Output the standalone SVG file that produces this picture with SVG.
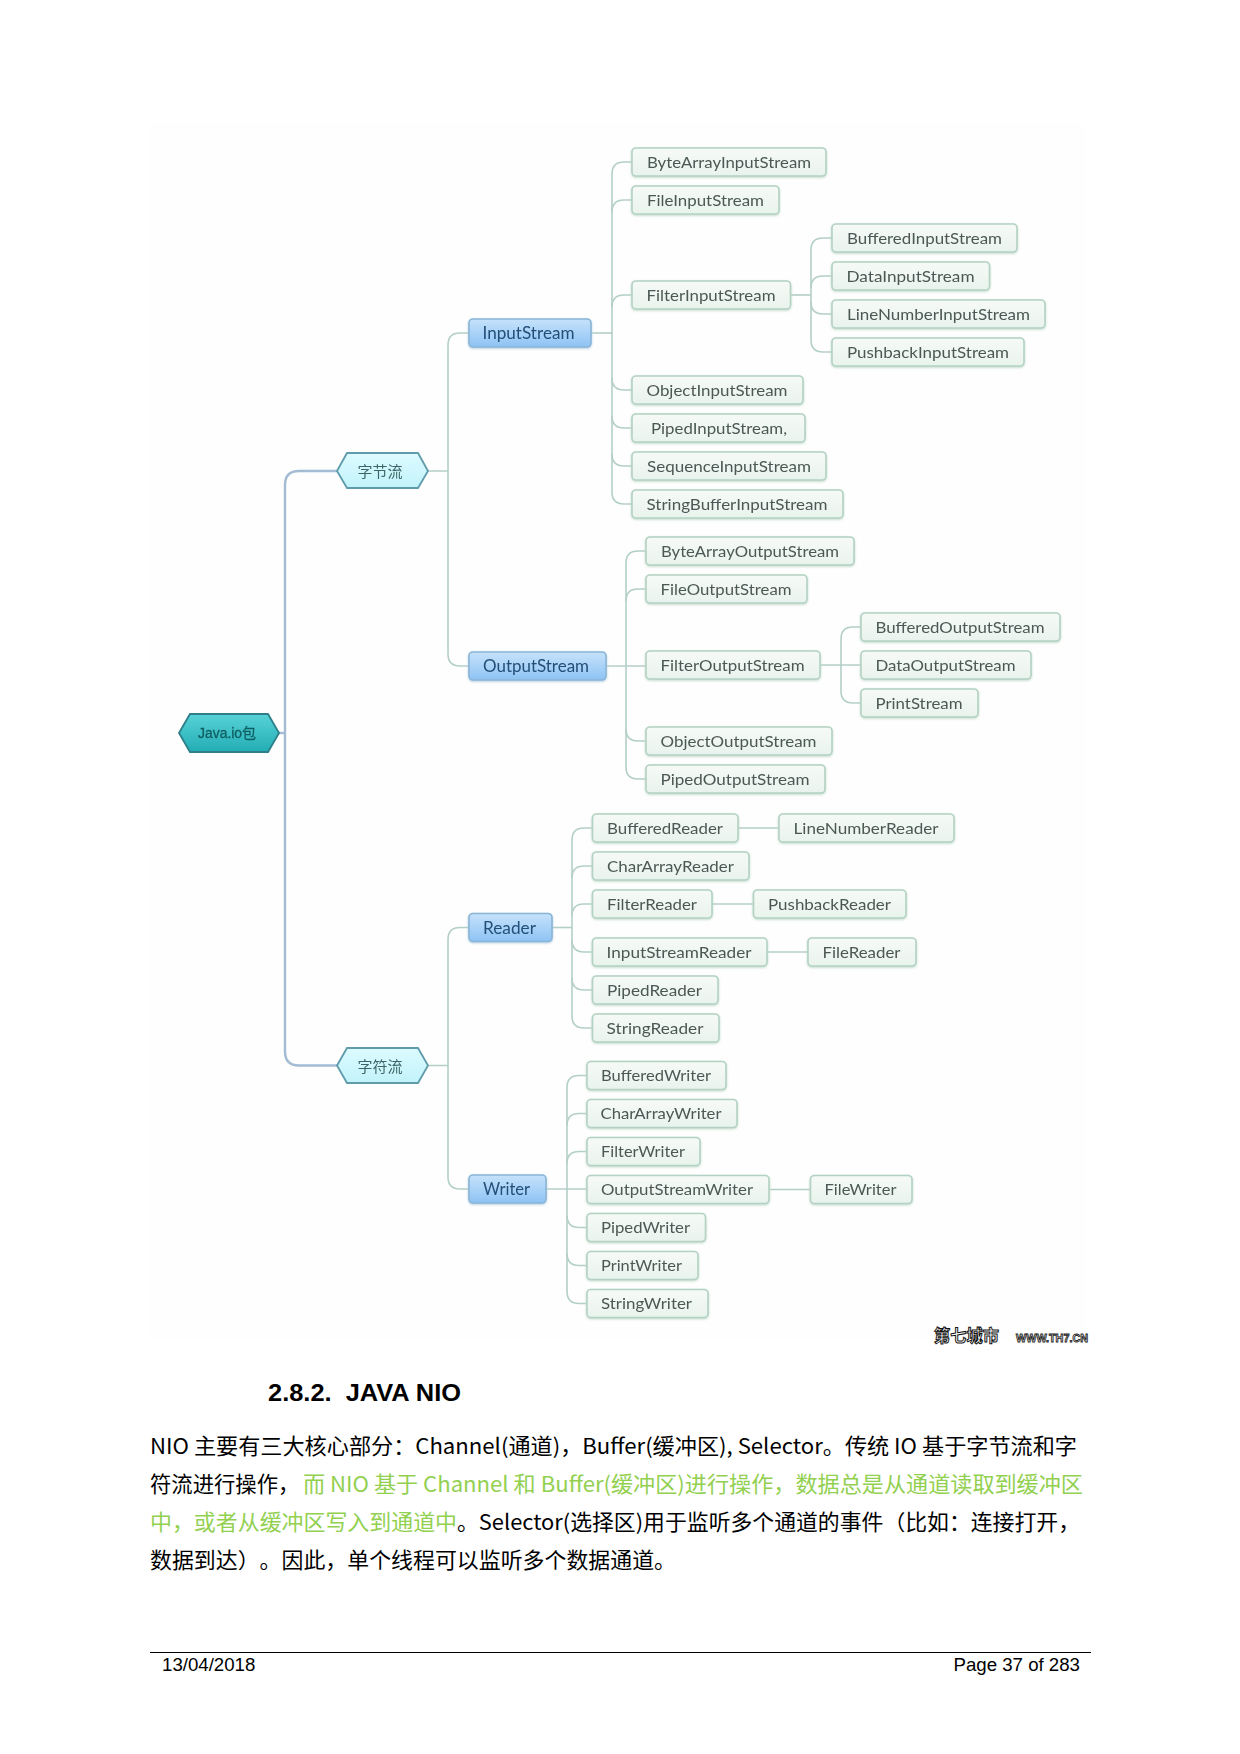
<svg xmlns="http://www.w3.org/2000/svg" width="1240" height="1754" viewBox="0 0 1240 1754">
<defs>
<linearGradient id="gLeaf" x1="0" y1="0" x2="0" y2="1"><stop offset="0" stop-color="#f6faf7"/><stop offset="1" stop-color="#e9f3ed"/></linearGradient>
<linearGradient id="gBlue" x1="0" y1="0" x2="0" y2="1"><stop offset="0" stop-color="#c6e2fb"/><stop offset="1" stop-color="#8ec3f4"/></linearGradient>
<linearGradient id="gHex" x1="0" y1="0" x2="0" y2="1"><stop offset="0" stop-color="#dcfbff"/><stop offset="1" stop-color="#c2f3fa"/></linearGradient>
<linearGradient id="gRoot" x1="0" y1="0" x2="0" y2="1"><stop offset="0" stop-color="#58d2d6"/><stop offset="1" stop-color="#22adb4"/></linearGradient>
<filter id="soft" x="-2%" y="-2%" width="104%" height="104%"><feGaussianBlur stdDeviation="0.5"/></filter>
</defs>
<style>
.leaf rect{fill:url(#gLeaf);stroke:#b4d2c4;stroke-width:1.6;filter:drop-shadow(0 1px 1px #c3dacd)}
.blue rect{fill:url(#gBlue);stroke:#8ab5d6;stroke-width:1.6;filter:drop-shadow(0 1px 1px #b6cfe4)}
.hex polygon{fill:url(#gHex);stroke:#5f9bab;stroke-width:1.8}
.root polygon{fill:url(#gRoot);stroke:#2d7f8a;stroke-width:1.8}
.leaf text{font:16px Lato,"Liberation Sans",sans-serif;fill:#4b5955;text-anchor:middle}
.blue text{font:16.5px Lato,"Liberation Sans",sans-serif;fill:#234f78;text-anchor:middle}
.hex text{font:15px "Noto Sans CJK SC",sans-serif;fill:#3a6665;text-anchor:middle}
.root text{font:14px "Liberation Sans","Noto Sans CJK SC",sans-serif;fill:#0f5f63;stroke:#0f5f63;stroke-width:0.3;text-anchor:middle}
.c1{fill:none;stroke:#a3bcd4;stroke-width:2.4}
.c2{fill:none;stroke:#b4cfc8;stroke-width:1.6}
.body{font:21.33px "Noto Sans CJK SC",sans-serif;font-weight:400;fill:#000;text-spacing-trim:space-all}
.green{fill:#92d050}
.foot{font:18.67px "Liberation Sans",sans-serif;fill:#000}
</style>
<rect width="1240" height="1754" fill="#fff"/>
<rect x="150" y="122" width="935" height="1218" fill="#fdfefd"/>
<g id="diagram" filter="url(#soft)">
<g id="connectors">
<path class="c1" d="M279,733H285"/>
<path class="c1" d="M337,471H299Q285,471 285,485V1051.500Q285,1065.500 299,1065.500H337"/>
<path class="c2" d="M428,471H448M428,1065.500H448"/>
<path class="c2" d="M469,333H460Q448,333 448,345V654Q448,666 460,666H469"/>
<path class="c2" d="M469,927.500H460Q448,927.500 448,939.500V1177Q448,1189 460,1189H469"/>
<path class="c2" d="M591,333H612"/>
<path class="c2" d="M632,162H624Q612,162 612,174V492Q612,504 624,504H632"/>
<path class="c2" d="M632,200H624Q612,200 612,212M632,295H624Q612,295 612,307M632,390H624Q612,390 612,378M632,428H624Q612,428 612,416M632,466H624Q612,466 612,454"/>
<path class="c2" d="M790.500,295H811"/>
<path class="c2" d="M832,238H823Q811,238 811,250V340Q811,352 823,352H832"/>
<path class="c2" d="M832,276H823Q811,276 811,288M832,314H823Q811,314 811,302"/>
<path class="c2" d="M606,666H646"/>
<path class="c2" d="M646,551H638Q626,551 626,563V767Q626,779 638,779H646"/>
<path class="c2" d="M646,589H638Q626,589 626,601M646,741H638Q626,741 626,729"/>
<path class="c2" d="M820,665H861"/>
<path class="c2" d="M861,627H853Q841,627 841,639V691Q841,703 853,703H861"/>
<path class="c2" d="M552,927.500H572"/>
<path class="c2" d="M592.500,828H584Q572,828 572,840V1016Q572,1028 584,1028H592.500"/>
<path class="c2" d="M592.500,866H584Q572,866 572,878M592.500,904H584Q572,904 572,916M592.500,952H584Q572,952 572,940M592.500,990H584Q572,990 572,978"/>
<path class="c2" d="M738,828H779M712,904H753.500M767,952H808"/>
<path class="c2" d="M546,1189H587"/>
<path class="c2" d="M587,1075.500H579Q567,1075.500 567,1087.500V1291.500Q567,1303.500 579,1303.500H587"/>
<path class="c2" d="M587,1113.500H579Q567,1113.500 567,1125.500M587,1151.500H579Q567,1151.500 567,1163.500M587,1227.500H579Q567,1227.500 567,1215.500M587,1265.500H579Q567,1265.500 567,1253.500"/>
<path class="c2" d="M769,1189.500H810.500"/>
</g>
<g id="n-root" class="root"><polygon points="179,733 190,714 268,714 279,733 268,752 190,752"/><text x="227" y="738" textLength="58" lengthAdjust="spacingAndGlyphs">Java.io包</text></g>
<g id="n-zjl" class="hex"><polygon points="337,471 347,453 418,453 428,471 418,488 347,488"/><text x="380" y="477">字节流</text></g>
<g id="n-zfl" class="hex"><polygon points="337,1065.500 347,1048 418,1048 428,1065.500 418,1083 347,1083"/><text x="380" y="1071.500">字符流</text></g>
<g id="n-InputStream" class="blue"><rect x="469" y="319" width="122" height="28" rx="4"/><text x="528.500" y="339" textLength="92" lengthAdjust="spacingAndGlyphs">InputStream</text></g>
<g id="n-OutputStream" class="blue"><rect x="469" y="652" width="137" height="28" rx="4"/><text x="536" y="672" textLength="106" lengthAdjust="spacingAndGlyphs">OutputStream</text></g>
<g id="n-Reader" class="blue"><rect x="469" y="913.500" width="83" height="28" rx="4"/><text x="509.500" y="933.500" textLength="53" lengthAdjust="spacingAndGlyphs">Reader</text></g>
<g id="n-Writer" class="blue"><rect x="469" y="1175" width="77" height="28" rx="4"/><text x="506.500" y="1195" textLength="47" lengthAdjust="spacingAndGlyphs">Writer</text></g>
<g id="n-ByteArrayInputStream" class="leaf"><rect x="632" y="148" width="194" height="28" rx="4"/><text x="729" y="168" textLength="164" lengthAdjust="spacingAndGlyphs">ByteArrayInputStream</text></g>
<g id="n-FileInputStream" class="leaf"><rect x="632" y="186" width="147" height="28" rx="4"/><text x="705.500" y="206" textLength="117" lengthAdjust="spacingAndGlyphs">FileInputStream</text></g>
<g id="n-FilterInputStream" class="leaf"><rect x="632" y="281" width="158.500" height="28" rx="4"/><text x="711" y="301" textLength="129" lengthAdjust="spacingAndGlyphs">FilterInputStream</text></g>
<g id="n-BufferedInputStream" class="leaf"><rect x="832" y="224" width="185" height="28" rx="4"/><text x="924.500" y="244" textLength="155" lengthAdjust="spacingAndGlyphs">BufferedInputStream</text></g>
<g id="n-DataInputStream" class="leaf"><rect x="832" y="262" width="157.500" height="28" rx="4"/><text x="910.500" y="282" textLength="128" lengthAdjust="spacingAndGlyphs">DataInputStream</text></g>
<g id="n-LineNumberInputStream" class="leaf"><rect x="832" y="300" width="213" height="28" rx="4"/><text x="938.500" y="320" textLength="183" lengthAdjust="spacingAndGlyphs">LineNumberInputStream</text></g>
<g id="n-PushbackInputStream" class="leaf"><rect x="832" y="338" width="192" height="28" rx="4"/><text x="928" y="358" textLength="162" lengthAdjust="spacingAndGlyphs">PushbackInputStream</text></g>
<g id="n-ObjectInputStream" class="leaf"><rect x="632" y="376" width="171" height="28" rx="4"/><text x="717" y="396" textLength="141" lengthAdjust="spacingAndGlyphs">ObjectInputStream</text></g>
<g id="n-PipedInputStream" class="leaf"><rect x="632" y="414" width="173" height="28" rx="4"/><text x="719" y="434" textLength="136" lengthAdjust="spacingAndGlyphs">PipedInputStream,</text></g>
<g id="n-SequenceInputStream" class="leaf"><rect x="632" y="452" width="194" height="28" rx="4"/><text x="729" y="472" textLength="164" lengthAdjust="spacingAndGlyphs">SequenceInputStream</text></g>
<g id="n-StringBufferInputStream" class="leaf"><rect x="632" y="490" width="211" height="28" rx="4"/><text x="737" y="510" textLength="181" lengthAdjust="spacingAndGlyphs">StringBufferInputStream</text></g>
<g id="n-ByteArrayOutputStream" class="leaf"><rect x="646" y="537" width="208" height="28" rx="4"/><text x="750" y="557" textLength="178" lengthAdjust="spacingAndGlyphs">ByteArrayOutputStream</text></g>
<g id="n-FileOutputStream" class="leaf"><rect x="646" y="575" width="161" height="28" rx="4"/><text x="726" y="595" textLength="131" lengthAdjust="spacingAndGlyphs">FileOutputStream</text></g>
<g id="n-FilterOutputStream" class="leaf"><rect x="646" y="651" width="174" height="28" rx="4"/><text x="732.500" y="671" textLength="144" lengthAdjust="spacingAndGlyphs">FilterOutputStream</text></g>
<g id="n-BufferedOutputStream" class="leaf"><rect x="861" y="613" width="199" height="28" rx="4"/><text x="960" y="633" textLength="169" lengthAdjust="spacingAndGlyphs">BufferedOutputStream</text></g>
<g id="n-DataOutputStream" class="leaf"><rect x="861" y="651" width="170" height="28" rx="4"/><text x="945.500" y="671" textLength="140" lengthAdjust="spacingAndGlyphs">DataOutputStream</text></g>
<g id="n-PrintStream" class="leaf"><rect x="861" y="689" width="117" height="28" rx="4"/><text x="919" y="709" textLength="87" lengthAdjust="spacingAndGlyphs">PrintStream</text></g>
<g id="n-ObjectOutputStream" class="leaf"><rect x="646" y="727" width="186" height="28" rx="4"/><text x="738.500" y="747" textLength="156" lengthAdjust="spacingAndGlyphs">ObjectOutputStream</text></g>
<g id="n-PipedOutputStream" class="leaf"><rect x="646" y="765" width="179" height="28" rx="4"/><text x="735" y="785" textLength="149" lengthAdjust="spacingAndGlyphs">PipedOutputStream</text></g>
<g id="n-BufferedReader" class="leaf"><rect x="592.500" y="814" width="145.500" height="28" rx="4"/><text x="665" y="834" textLength="116" lengthAdjust="spacingAndGlyphs">BufferedReader</text></g>
<g id="n-LineNumberReader" class="leaf"><rect x="779" y="814" width="175" height="28" rx="4"/><text x="866" y="834" textLength="145" lengthAdjust="spacingAndGlyphs">LineNumberReader</text></g>
<g id="n-CharArrayReader" class="leaf"><rect x="592.500" y="852" width="156.500" height="28" rx="4"/><text x="670.500" y="872" textLength="127" lengthAdjust="spacingAndGlyphs">CharArrayReader</text></g>
<g id="n-FilterReader" class="leaf"><rect x="592.500" y="890" width="119.500" height="28" rx="4"/><text x="652" y="910" textLength="90" lengthAdjust="spacingAndGlyphs">FilterReader</text></g>
<g id="n-PushbackReader" class="leaf"><rect x="753.500" y="890" width="152.500" height="28" rx="4"/><text x="829.500" y="910" textLength="123" lengthAdjust="spacingAndGlyphs">PushbackReader</text></g>
<g id="n-InputStreamReader" class="leaf"><rect x="592.500" y="938" width="174.500" height="28" rx="4"/><text x="679" y="958" textLength="145" lengthAdjust="spacingAndGlyphs">InputStreamReader</text></g>
<g id="n-FileReader" class="leaf"><rect x="808" y="938" width="108" height="28" rx="4"/><text x="861.500" y="958" textLength="78" lengthAdjust="spacingAndGlyphs">FileReader</text></g>
<g id="n-PipedReader" class="leaf"><rect x="592.500" y="976" width="125.500" height="28" rx="4"/><text x="654.500" y="996" textLength="95" lengthAdjust="spacingAndGlyphs">PipedReader</text></g>
<g id="n-StringReader" class="leaf"><rect x="592.500" y="1014" width="126.500" height="28" rx="4"/><text x="655" y="1034" textLength="97" lengthAdjust="spacingAndGlyphs">StringReader</text></g>
<g id="n-BufferedWriter" class="leaf"><rect x="587" y="1061.500" width="139" height="28" rx="4"/><text x="656" y="1081" textLength="110" lengthAdjust="spacingAndGlyphs">BufferedWriter</text></g>
<g id="n-CharArrayWriter" class="leaf"><rect x="587" y="1099.500" width="150" height="28" rx="4"/><text x="661" y="1119" textLength="121" lengthAdjust="spacingAndGlyphs">CharArrayWriter</text></g>
<g id="n-FilterWriter" class="leaf"><rect x="587" y="1137.500" width="113" height="28" rx="4"/><text x="643" y="1157" textLength="84" lengthAdjust="spacingAndGlyphs">FilterWriter</text></g>
<g id="n-OutputStreamWriter" class="leaf"><rect x="587" y="1175.500" width="182" height="28" rx="4"/><text x="677" y="1195" textLength="152" lengthAdjust="spacingAndGlyphs">OutputStreamWriter</text></g>
<g id="n-FileWriter" class="leaf"><rect x="810.500" y="1175.500" width="101.500" height="28" rx="4"/><text x="860.500" y="1195" textLength="72" lengthAdjust="spacingAndGlyphs">FileWriter</text></g>
<g id="n-PipedWriter" class="leaf"><rect x="587" y="1213.500" width="118.500" height="28" rx="4"/><text x="645.500" y="1233" textLength="89" lengthAdjust="spacingAndGlyphs">PipedWriter</text></g>
<g id="n-PrintWriter" class="leaf"><rect x="587" y="1251.500" width="111" height="28" rx="4"/><text x="641.500" y="1271" textLength="81" lengthAdjust="spacingAndGlyphs">PrintWriter</text></g>
<g id="n-StringWriter" class="leaf"><rect x="587" y="1289.500" width="121" height="28" rx="4"/><text x="646.500" y="1309" textLength="91" lengthAdjust="spacingAndGlyphs">StringWriter</text></g>
</g>
<text x="934" y="1342" font-family="Noto Sans CJK SC,sans-serif" font-size="16.500" font-weight="700" fill="#fff" stroke="#111" stroke-width="1" textLength="65" lengthAdjust="spacingAndGlyphs">第七城市</text>
<text x="1016" y="1342" font-family="Liberation Sans,sans-serif" font-size="10" font-weight="700" fill="#fff" stroke="#222" stroke-width="0.800" textLength="72" lengthAdjust="spacingAndGlyphs">WWW.TH7.CN</text>
<text x="268" y="1401" font-family="Liberation Sans,sans-serif" font-weight="700" font-size="24.500" fill="#000" xml:space="preserve" textLength="193" lengthAdjust="spacingAndGlyphs">2.8.2.  JAVA NIO</text>
<text class="body" x="150" y="1454" textLength="927" lengthAdjust="spacingAndGlyphs">NIO 主要有三大核心部分：Channel(通道)，Buffer(缓冲区), Selector。传统 IO 基于字节流和字</text>
<text class="body" x="150" y="1492">符流进行操作，</text>
<text class="body green" x="303" y="1492" textLength="780" lengthAdjust="spacingAndGlyphs">而 NIO 基于 Channel 和 Buffer(缓冲区)进行操作，数据总是从通道读取到缓冲区</text>
<text class="body green" x="150" y="1530" textLength="307" lengthAdjust="spacingAndGlyphs">中，或者从缓冲区写入到通道中</text>
<text class="body" x="457" y="1530" textLength="623" lengthAdjust="spacingAndGlyphs">。Selector(选择区)用于监听多个通道的事件（比如：连接打开，</text>
<text class="body" x="150" y="1568" textLength="526" lengthAdjust="spacingAndGlyphs">数据到达）。因此，单个线程可以监听多个数据通道。</text>
<path d="M150,1652.500H1091" stroke="#000" stroke-width="1" fill="none"/>
<text class="foot" x="162" y="1671">13/04/2018</text>
<text class="foot" x="1080" y="1671" text-anchor="end">Page 37 of 283</text>
</svg>
